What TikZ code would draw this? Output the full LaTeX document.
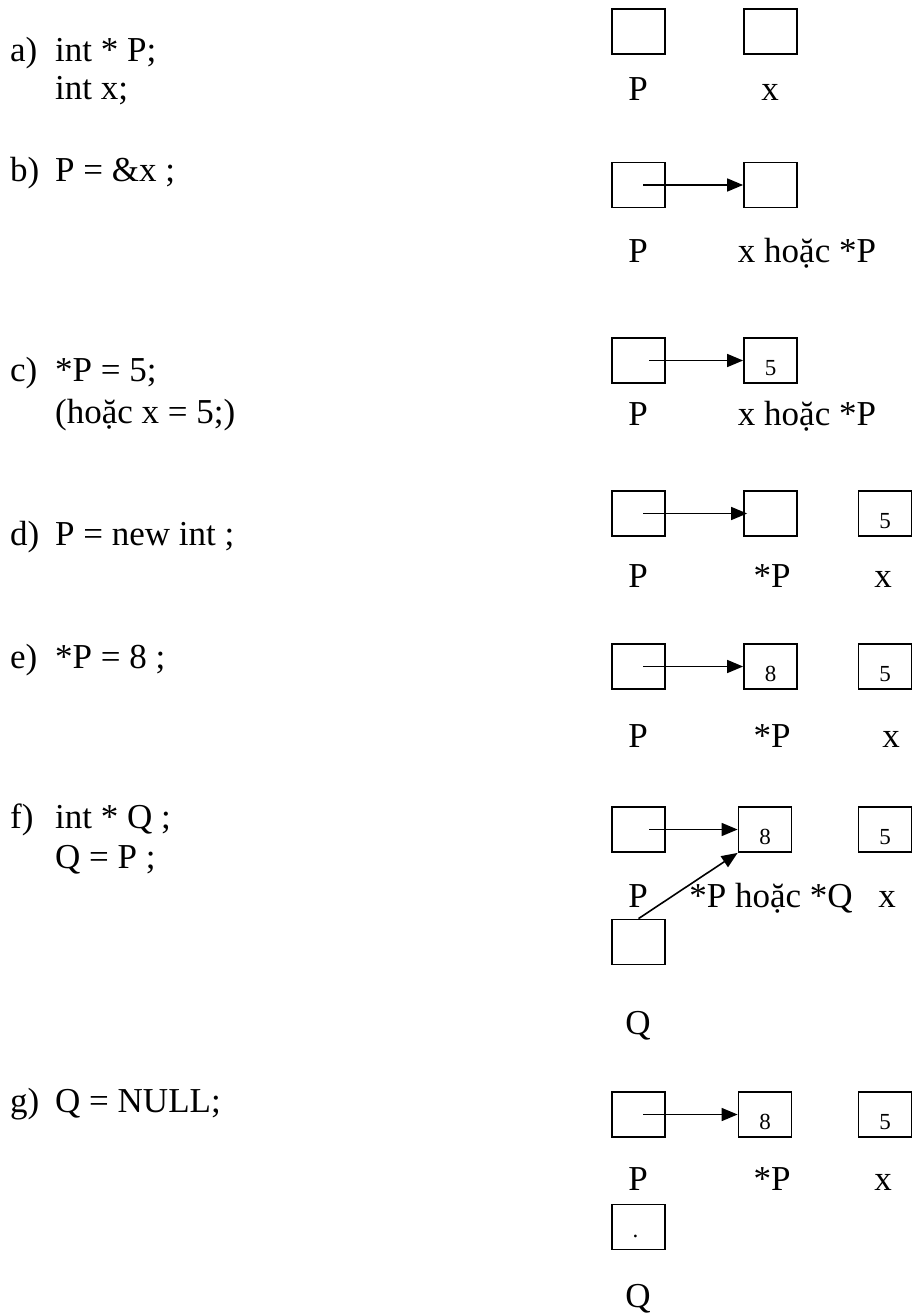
\documentclass[tikz,border=0pt]{standalone}
\usepackage{fontspec}
\setmainfont{Liberation Serif}
\usetikzlibrary{arrows.meta}
\begin{document}
\begin{tikzpicture}[x=1pt,y=-1pt,
  cell/.style={draw,line width=1.8pt,minimum width=53pt,minimum height=45pt,inner sep=0pt},
  lbl/.style={anchor=base,inner sep=0pt,font=\fontsize{35}{40}\selectfont},
  code/.style={anchor=base west,inner sep=0pt,font=\fontsize{35}{40}\selectfont},
  num/.style={anchor=base,inner sep=0pt,font=\fontsize{23}{26}\selectfont},
  ptr/.style={line width=1.6pt,-{Triangle[length=16pt,width=13pt]}}]
\useasboundingbox (0,0) rectangle (912,1316);

% ---------- left column ----------
\node[code] (la)  at (10,62)   {a)};
\node[code] (ca1) at (55,62)   {int * P;};
\node[code] (ca2) at (55,100)  {int x;};
\node[code] (lb)  at (10,182)  {b)};
\node[code] (cb1) at (55,182)  {P = \&x ;};
\node[code] (lc)  at (10,381)  {c)};
\node[code] (cc1) at (55,381)  {*P = 5;};
\node[code] (cc2) at (55,423)  {(hoặc x = 5;)};
\node[code] (ld)  at (10,545)  {d)};
\node[code] (cd1) at (55,545)  {P = new int ;};
\node[code] (le)  at (10,668)  {e)};
\node[code] (ce1) at (55,668)  {*P = 8 ;};
\node[code] (lf)  at (10,828)  {f)};
\node[code] (cf1) at (55,828)  {int * Q ;};
\node[code] (cf2) at (55,868)  {Q = P ;};
\node[code] (lg)  at (10,1112) {g)};
\node[code] (cg1) at (55,1112) {Q = NULL;};

% ---------- a) ----------
\node[cell] (aP) at (638.5,31.5) {};
\node[cell] (aX) at (770.5,31.5) {};
\node[lbl] (aPl) at (638,101) {P};
\node[lbl] (aXl) at (770,101) {x};

% ---------- b) ----------
\node[cell] (bP) at (638.5,185) {};
\node[cell] (bX) at (770.5,185) {};
\draw[ptr] ([xshift=4.5pt]bP.center) -- (bX.west);
\node[lbl] (bPl) at (638,262) {P};
\node[lbl] (bXl) at (807,262) {x hoặc *P};

% ---------- c) ----------
\node[cell] (cP) at (638.5,360.5) {};
\node[cell] (cX) at (770.5,360.5) {};
\node[num] (cXv) at ([yshift=-15pt]cX.center) {5};
\draw[ptr] ([xshift=10.5pt]cP.center) -- (cX.west);
\node[lbl] (cPl) at (638,425) {P};
\node[lbl] (cXl) at (807,425) {x hoặc *P};

% ---------- d) ----------
\node[cell] (dP) at (638.5,513.5) {};
\node[cell] (dS) at (770.5,513.5) {};
\node[cell] (dX) at (885,513.5) {};
\node[num] (dXv) at ([yshift=-15pt]dX.center) {5};
\draw[ptr] ([xshift=4.5pt]dP.center) -- ([xshift=4pt]dS.west);
\node[lbl] (dPl) at (638,587) {P};
\node[lbl] (dSl) at (772,587) {*P};
\node[lbl] (dXl) at (883,587) {x};

% ---------- e) ----------
\node[cell] (eP) at (638.5,666.5) {};
\node[cell] (eS) at (770.5,666.5) {};
\node[cell] (eX) at (885,666.5) {};
\node[num] (eSv) at ([yshift=-15pt]eS.center) {8};
\node[num] (eXv) at ([yshift=-15pt]eX.center) {5};
\draw[ptr] ([xshift=4.5pt]eP.center) -- (eS.west);
\node[lbl] (ePl) at (638,747) {P};
\node[lbl] (eSl) at (772,747) {*P};
\node[lbl] (eXl) at (891,747) {x};

% ---------- f) ----------
\node[cell] (fP) at (638.5,829.5) {};
\node[cell] (fS) at (765,829.5) {};
\node[cell] (fX) at (885,829.5) {};
\node[cell] (fQ) at (638.5,942) {};
\node[num] (fSv) at ([yshift=-15pt]fS.center) {8};
\node[num] (fXv) at ([yshift=-15pt]fX.center) {5};
\draw[ptr] ([xshift=10.5pt]fP.center) -- (fS.west);
\node[lbl] (fPl) at (638,907) {P};
\node[lbl] (fSl) at (771,907) {*P hoặc *Q};
\node[lbl] (fXl) at (887,907) {x};
\draw[ptr] (fQ.north) -- (fS.south west);
\node[lbl] (fQl) at (638,1034) {Q};

% ---------- g) ----------
\node[cell] (gP) at (638.5,1114.5) {};
\node[cell] (gS) at (765,1114.5) {};
\node[cell] (gX) at (885,1114.5) {};
\node[num] (gSv) at ([yshift=-15pt]gS.center) {8};
\node[num] (gXv) at ([yshift=-15pt]gX.center) {5};
\draw[ptr] ([xshift=4.5pt]gP.center) -- (gS.west);
\node[lbl] (gPl) at (638,1190) {P};
\node[lbl] (gSl) at (772,1190) {*P};
\node[lbl] (gXl) at (883,1190) {x};
\node[cell] (gQ) at (638.5,1227) {};
\node[num] (gQv) at ([xshift=-3pt,yshift=-10pt]gQ.center) {.};
\node[lbl] (gQl) at (638,1307) {Q};
\end{tikzpicture}
\end{document}
